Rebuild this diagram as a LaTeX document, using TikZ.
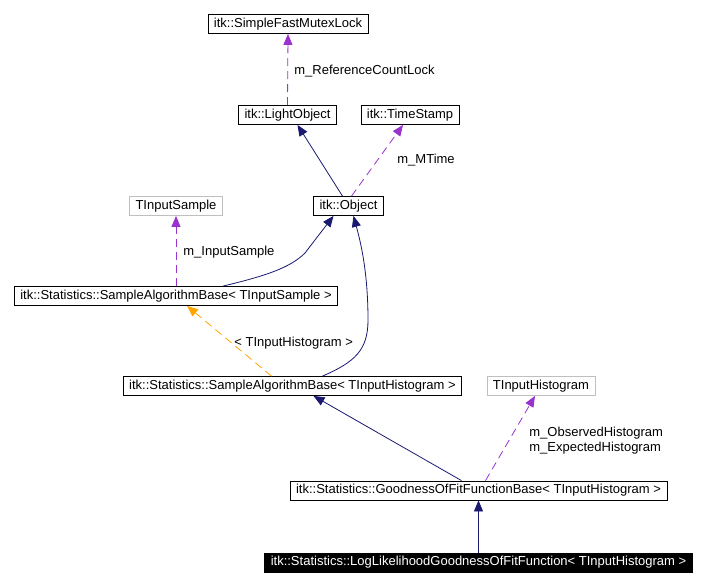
\documentclass[tikz,border=0pt]{standalone}
\usepackage{fontspec}
\setmainfont{Liberation Sans}
\usepackage{tikz}
\usetikzlibrary{arrows.meta,positioning}

\begin{document}
\begin{tikzpicture}[x=1pt,y=-1pt,line width=0.8pt,
    cls/.style={draw=black,fill=white,inner xsep=6pt,inner ysep=0pt,minimum height=19pt,font=\fontsize{13}{15}\selectfont},
    tmpl/.style={cls,draw=black!25},
    self/.style={cls,fill=black,text=white},
    inherit/.style={draw={rgb,255:red,25;green,25;blue,112},-{Triangle[length=11pt,width=9pt]}},
    usage/.style={draw={rgb,255:red,154;green,50;blue,205},dash pattern=on 8pt off 5pt,-{Triangle[length=11pt,width=9pt]}},
    inst/.style={draw={rgb,255:red,255;green,165;blue,0},dash pattern=on 8pt off 5pt,-{Triangle[length=11pt,width=9pt]}},
    lbl/.style={anchor=west,inner sep=0pt,font=\fontsize{13}{15}\selectfont}]
  \useasboundingbox (0,0) rectangle (705,587);
  % classes
  \node[cls]  (mutex)  at (288,24)    {itk::SimpleFastMutexLock};
  \node[cls]  (light)  at (287.5,115) {itk::LightObject};
  \node[cls]  (stamp)  at (410,115)   {itk::TimeStamp};
  \node[tmpl] (tsample) at (176,206)  {TInputSample};
  \node[cls]  (object) at (348.5,206) {itk::Object};
  \node[cls]  (sabsample) at (176,296) {itk::Statistics::SampleAlgorithmBase< TInputSample >};
  \node[cls]  (sabhist) at (292.5,386) {itk::Statistics::SampleAlgorithmBase< TInputHistogram >};
  \node[tmpl] (thist)  at (541,386)   {TInputHistogram};
  \node[cls]  (gof)    at (478.5,490.5) {itk::Statistics::GoodnessOfFitFunctionBase< TInputHistogram >};
  \node[self] (loglik) at (478.5,562.5) {itk::Statistics::LogLikelihoodGoodnessOfFitFunction< TInputHistogram >};
  % members
  \draw[usage] (light.north) -- (mutex.south);
  \node[lbl] (lref) at (294,71) {m\_ReferenceCountLock};
  \draw[usage] ([xshift=3pt]object.north) -- ([xshift=-7pt]stamp.south);
  \node[lbl] (lmtime) at (397,160) {m\_MTime};
  \draw[usage] (sabsample.north) -- (tsample.south);
  \node[lbl] (linput) at (183,252) {m\_InputSample};
  \draw[usage] ([xshift=7pt]gof.north) -- ([xshift=-6pt]thist.south);
  \node[lbl,align=left] (lhist) at (529,440.5) {m\_ObservedHistogram\\m\_ExpectedHistogram};
  % template instance
  \draw[inst] ([xshift=-21pt]sabhist.north) -- ([xshift=11pt]sabsample.south);
  \node[lbl] (linst) at (234,343) {< TInputHistogram >};
  % inheritance
  \draw[inherit] ([xshift=-6pt]object.north) -- ([xshift=10pt]light.south);
  \draw[inherit] ([xshift=47pt]sabsample.north) .. controls (265,276) and (290,268) .. (305,253) -- ([xshift=-15pt]object.south);
  \draw[inherit] ([xshift=30pt]sabhist.north) .. controls (355,362) and (368,350) .. (368,320) .. controls (368,270) and (360,240) .. ([xshift=5pt]object.south);
  \draw[inherit] ([xshift=-17pt]gof.north) -- ([xshift=21pt]sabhist.south);
  \draw[inherit] (loglik.north) -- (gof.south);
\end{tikzpicture}
\end{document}
